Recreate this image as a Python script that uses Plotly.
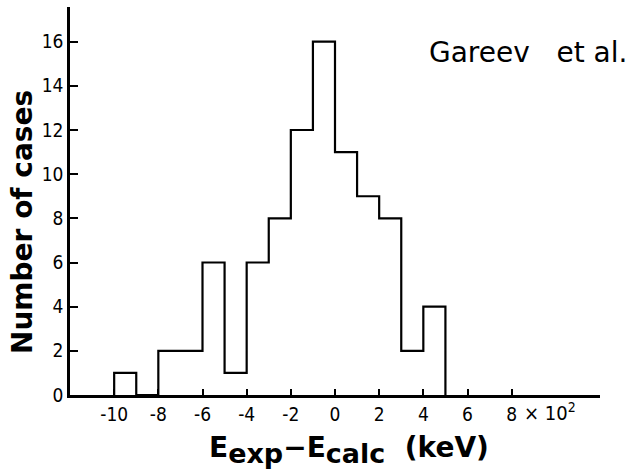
import plotly.graph_objects as go

# bin edges (units of 100 keV) and counts per bin
bin_edges = [-10, -9, -8, -7, -6, -5, -4, -3, -2, -1, 0, 1, 2, 3, 4, 5]
counts = [1, 0, 2, 2, 6, 1, 6, 8, 12, 16, 11, 9, 8, 2, 4]

x_ticks = [-10, -8, -6, -4, -2, 0, 2, 4, 6, 8]
x_ticktext = ["-10", "-8", "-6", "-4", "-2", "0", "2", "4", "6", "8"]
y_ticks = [0, 2, 4, 6, 8, 10, 12, 14, 16]

xs = [bin_edges[0]] + bin_edges
ys = [0] + counts + [0]

fig = go.Figure()
fig.add_trace(go.Scatter(x=xs, y=ys, mode="lines", line=dict(color="black", width=2.2, shape="hv"),
                         hoverinfo="skip", showlegend=False))

tick_font = dict(family="DejaVu Sans Condensed, DejaVu Sans", size=19, color="black")
fig.update_layout(
    width=632, height=476,
    margin=dict(l=70, r=32, t=7, b=81),
    paper_bgcolor="white", plot_bgcolor="white",
    xaxis=dict(range=[-12, 12], showline=True, linecolor="black", linewidth=3,
               tickmode="array", tickvals=x_ticks, ticktext=x_ticktext,
               ticks="inside", ticklen=6, tickwidth=2, tickcolor="black",
               showgrid=False, zeroline=False, tickfont=tick_font, automargin=False),
    yaxis=dict(range=[0, 17.57], showline=True, linecolor="black", linewidth=2.5,
               tickmode="array", tickvals=y_ticks,
               ticks="inside", ticklen=8, tickwidth=2, tickcolor="black",
               showgrid=False, zeroline=False, tickfont=tick_font, automargin=False),
)

fig.add_annotation(x=(22 - 70) / 530, y=(395 - 222) / 388, xref="paper", yref="paper",
                   xanchor="center", yanchor="middle", textangle=-90,
                   text="<b>Number of cases</b>", showarrow=False,
                   font=dict(family="DejaVu Sans", size=28, color="black"))
fig.add_annotation(x=8.45, y=0, xref="x", yref="y", yshift=-17, xanchor="left", yanchor="middle",
                   text="× 10<sup>2</sup>", showarrow=False,
                   font=dict(family="DejaVu Sans Condensed, DejaVu Sans", size=20, color="black"))
fig.add_annotation(x=(349 - 70) / 530, y=-(450 - 395) / 388, xref="paper", yref="paper",
                   xanchor="center", yanchor="middle",
                   text="<b>E<sub><span style='font-size:27px'>exp</span></sub>−E<sub><span style='font-size:27px'>calc</span></sub>  (keV)</b>",
                   showarrow=False,
                   font=dict(family="DejaVu Sans", size=28, color="black"))
fig.add_annotation(x=(629 - 70) / 530, y=(395 - 52) / 388, xref="paper", yref="paper",
                   xanchor="right", yanchor="middle",
                   text="Gareev&nbsp;&nbsp; et al.", showarrow=False,
                   font=dict(family="DejaVu Sans", size=28, color="black"))

fig.write_html("out.html", config={"displayModeBar": False},
               post_script="document.body.style.margin='0';")
